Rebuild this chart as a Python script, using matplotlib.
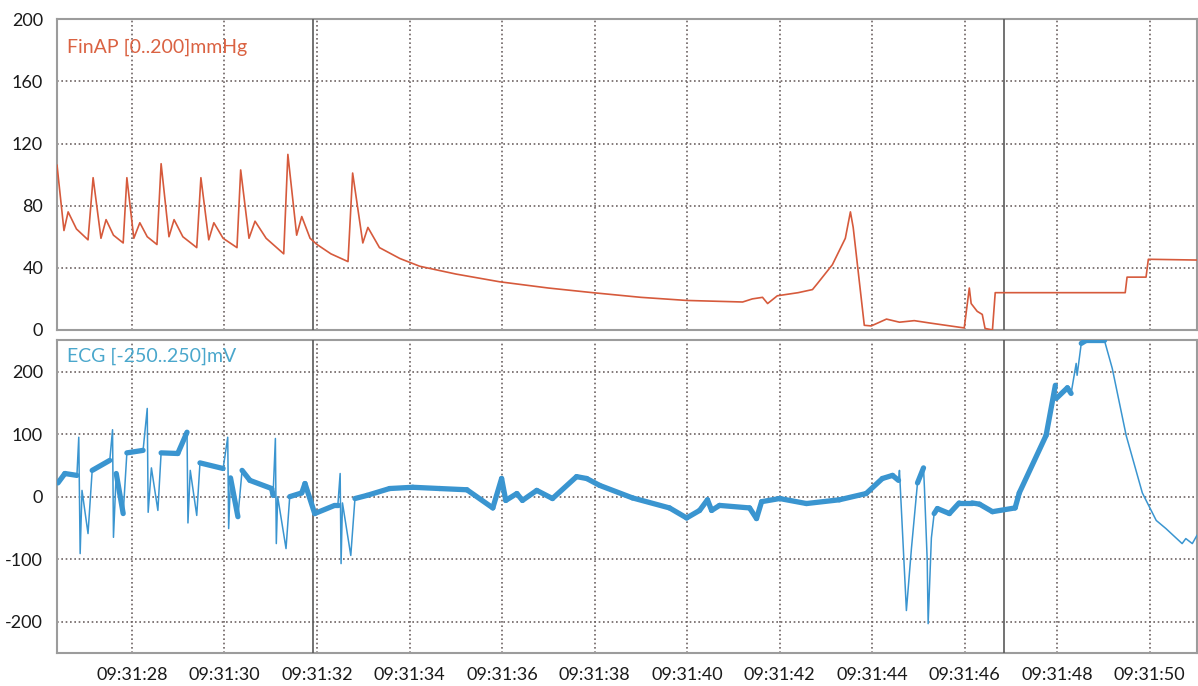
import numpy as np
import matplotlib
matplotlib.use("Agg")
import matplotlib.pyplot as plt
from matplotlib.collections import LineCollection

plt.rcParams['font.family'] = ['Lato', 'DejaVu Sans']
plt.rcParams['axes.unicode_minus'] = False

# time in seconds after 09:31:00
finap_t = [26.38, 26.53, 26.62, 26.80, 27.05, 27.16, 27.33, 27.44, 27.60, 27.81,
           27.89, 28.04, 28.17, 28.33, 28.54, 28.63, 28.80, 28.91, 29.10, 29.40,
           29.49, 29.66, 29.77, 29.97, 30.27, 30.35, 30.53, 30.66, 30.90, 31.28,
           31.37, 31.56, 31.67, 31.85, 32.00, 32.30, 32.67, 32.77, 32.99, 33.10,
           33.35, 33.79, 34.22, 35.00, 35.95, 37.00, 37.96, 39.00, 39.99, 41.20,
           41.41, 41.63, 41.74, 41.95, 42.40, 42.71, 42.82, 43.14, 43.42, 43.53,
           43.59, 43.83, 43.98, 44.31, 44.59, 44.91, 45.24, 45.99, 46.10, 46.14,
           46.27, 46.38, 46.44, 46.60, 46.66, 49.47, 49.51, 49.92, 49.97, 51.02]
finap_v = [106, 64, 76, 65, 58, 98, 59, 71, 61, 56,
           98, 59, 69, 60, 55, 107, 60, 71, 60, 53,
           98, 58, 69, 59, 53, 103, 59, 70, 59, 49,
           113, 61, 73, 59, 55, 49, 44, 101, 56, 66,
           53, 46, 41, 36, 31, 27, 24, 21, 19, 18,
           20, 21, 17, 22, 24, 26, 30, 42, 59, 76,
           66, 3, 2.6, 7, 5, 6, 4.5, 1.3, 27, 17,
           12, 10, 1, 0, 24, 24, 34, 34, 45.5, 45]

ecg_t = [26.40, 26.55, 26.81, 26.85, 26.88, 26.92, 27.05, 27.14, 27.52, 27.58,
         27.60, 27.66, 27.81, 27.89, 28.24, 28.33, 28.35, 28.42, 28.56, 28.63,
         28.99, 29.19, 29.21, 29.26, 29.40, 29.47, 29.97, 30.07, 30.09, 30.13,
         30.29, 30.38, 30.55, 31.02, 31.05, 31.10, 31.12, 31.15, 31.33, 31.41,
         31.67, 31.74, 31.95, 32.38, 32.45, 32.50, 32.52, 32.55, 32.73, 32.82,
         33.08, 33.57, 34.07, 34.65, 35.24, 35.80, 35.99, 36.08, 36.32, 36.44,
         36.75, 37.09, 37.61, 37.83, 38.11, 38.82, 39.62, 39.99, 40.27, 40.44,
         40.53, 40.70, 41.35, 41.50, 41.61, 42.00, 42.58, 43.29, 43.87, 44.22,
         44.44, 44.57, 44.59, 44.63, 44.74, 44.85, 44.98, 45.11, 45.13, 45.19,
         45.21, 45.28, 45.34, 45.41, 45.67, 45.88, 46.16, 46.32, 46.60, 47.09,
         47.18, 47.76, 47.96, 47.98, 48.22, 48.30, 48.41, 48.43, 48.52, 48.63,
         49.02, 49.19, 49.49, 49.84, 50.14, 50.35, 50.70, 50.78, 50.92, 51.02]
ecg_v = [22, 37, 34, 95, -91, 10, -59, 42, 58, 107,
         -65, 37, -27, 70, 74, 141, -25, 46, -22, 70,
         69, 103, -42, 42, -30, 54, 45, 95, -51, 30,
         -32, 42, 26, 13, 2, 93, -75, 0, -83, 0,
         6, 21, -27, -14, -14, 37, -107, -10, -94, -3,
         2, 13, 15, 13, 11, -18, 29, -6, 5, -6,
         10, -3, 32, 29, 18, -2, -18, -34, -22, -5,
         -22, -14, -18, -35, -8, -3, -11, -5, 5, 29,
         34, 26, 42, -18, -182, -82, 22, 46, 14, -102,
         -203, -66, -27, -19, -27, -10, -10, -12, -24, -18,
         6, 98, 178, 157, 174, 165, 213, 194, 245, 250,
         250, 205, 98, 6, -38, -51, -75, -67, -75, -62]

tick_secs = [28, 30, 32, 34, 36, 38, 40, 42, 44, 46, 48, 50]
tick_labels = ["09:31:%02d" % s for s in tick_secs]
marker_secs = [31.91, 46.86]
finap_ticks = [0, 40, 80, 120, 160, 200]
ecg_ticks = [-200, -100, 0, 100, 200]

RED = '#d65a3c'
BLUE = '#3a95d0'
GRID = '#6e6464'
SPINE = '#9c9c9c'
XMIN, XMAX = 26.38, 51.02

fig = plt.figure(figsize=(11.98, 6.86), dpi=100)
ax1 = fig.add_axes([0.0476, 0.519, 0.9515, 0.453])
ax2 = fig.add_axes([0.0476, 0.048, 0.9515, 0.456])

for ax in (ax1, ax2):
    ax.set_xlim(XMIN, XMAX)
    ax.set_xticks(tick_secs)
    ax.grid(True, color=GRID, linestyle=(0, (1, 1.6)), linewidth=1.2)
    for s in ax.spines.values():
        s.set_color(SPINE)
        s.set_linewidth(1.5)
    ax.tick_params(length=0, labelsize=13, pad=10, colors='#1a1a1a')
    for m in marker_secs:
        ax.axvline(m, color='#5a5a5a', linewidth=1.2, zorder=3)

ax1.set_ylim(0, 200)
ax1.set_yticks(finap_ticks)
ax1.set_xticklabels([])
ax1.plot(finap_t, finap_v, color=RED, linewidth=1.2, zorder=4)
ax1.text(0.009, 0.91, "FinAP [0..200]mmHg", transform=ax1.transAxes,
         color='#da6242', fontsize=14, va='center')

ax2.set_ylim(-250, 250)
ax2.set_yticks(ecg_ticks)
ax2.set_xticklabels(tick_labels)
t = np.array(ecg_t)
v = np.array(ecg_v)
ax2.plot(t, v, color=BLUE, linewidth=1.1, zorder=4)
# noisy band look on the slow parts of the trace
pts = np.column_stack([t, v])
segs = np.stack([pts[:-1], pts[1:]], axis=1)
slope = np.abs(np.diff(v) / np.diff(t))
keep = (slope < 430) & (t[:-1] < 48.9)
band = LineCollection(segs[keep], colors=BLUE, linewidths=3.8,
                      capstyle='round', joinstyle='round', zorder=4)
ax2.add_collection(band)
ax2.text(0.009, 0.95, "ECG [-250..250]mV", transform=ax2.transAxes,
         color='#4aa7cc', fontsize=14, va='center')

fig.savefig("out.png", dpi=100)
